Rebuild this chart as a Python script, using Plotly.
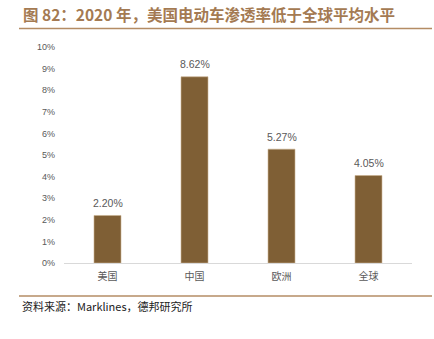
import plotly.graph_objects as go

# Data
regions = ["美国", "中国", "欧洲", "全球"]
penetration = [0.0220, 0.0862, 0.0527, 0.0405]
y_ticks = [0.00, 0.01, 0.02, 0.03, 0.04, 0.05, 0.06, 0.07, 0.08, 0.09, 0.10]

W, H = 434, 339
L, R, T, B = 64, 22, 47, 76
PW, PH = W - L - R, H - T - B
BAR_COLOR = "#7F5F35"
RULE_COLOR = "#B48C64"
TITLE_COLOR = "#A47A52"
GRAY = "#595959"


def px_x(x):
    return (x - L) / PW


def px_y(y):
    return (H - B - y) / PH


fig = go.Figure(
    go.Bar(
        x=regions,
        y=penetration,
        marker=dict(color=BAR_COLOR, line=dict(color="#C9B08F", width=0.6)),
        hoverinfo="skip",
    )
)

# value labels floating above each bar
value_labels = [
    dict(x=r, y=v, xref="x", yref="y", text=f"{v * 100:.2f}%",
         showarrow=False, yanchor="middle", yshift=12.5,
         font=dict(family="Liberation Sans, Arial", size=10.5, color=GRAY))
    for r, v in zip(regions, penetration)
]

fig.update_layout(
    width=W,
    height=H,
    margin=dict(l=L, r=R, t=T, b=B),
    paper_bgcolor="white",
    plot_bgcolor="white",
    showlegend=False,
    bargap=0.69,
    xaxis=dict(
        showgrid=False,
        showline=True,
        linecolor="#D9D9D9",
        linewidth=1,
        ticks="",
        ticklabelstandoff=4,
        tickfont=dict(family="Noto Sans CJK SC", size=10, color=GRAY),
        fixedrange=True,
    ),
    yaxis=dict(
        range=[0, 0.10],
        tickvals=y_ticks,
        ticktext=[f"{round(t * 100)}%" for t in y_ticks],
        showgrid=False,
        zeroline=False,
        showline=False,
        ticks="",
        ticklabelstandoff=8,
        tickfont=dict(family="Liberation Sans, Arial", size=9, color=GRAY),
        fixedrange=True,
    ),
    shapes=[
        dict(type="line", xref="paper", yref="paper",
             x0=px_x(19), x1=px_x(432), y0=px_y(28.5), y1=px_y(28.5),
             line=dict(color=RULE_COLOR, width=1.5)),
        dict(type="line", xref="paper", yref="paper",
             x0=px_x(19), x1=px_x(432), y0=px_y(296), y1=px_y(296),
             line=dict(color=RULE_COLOR, width=1.5)),
    ],
    annotations=value_labels + [
        dict(text="<b>图 82：2020 年，美国电动车渗透率低于全球平均水平</b>",
             xref="paper", yref="paper", x=px_x(21), y=px_y(14),
             xanchor="left", yanchor="middle", showarrow=False,
             font=dict(family="Noto Sans CJK SC", size=15.5, color=TITLE_COLOR)),
        dict(text="资料来源：Marklines，德邦研究所",
             xref="paper", yref="paper", x=px_x(20), y=px_y(306),
             xanchor="left", yanchor="middle", showarrow=False,
             font=dict(family="Noto Sans CJK SC", size=11, color="#222222")),
    ],
)

fig.write_html("out.html")
